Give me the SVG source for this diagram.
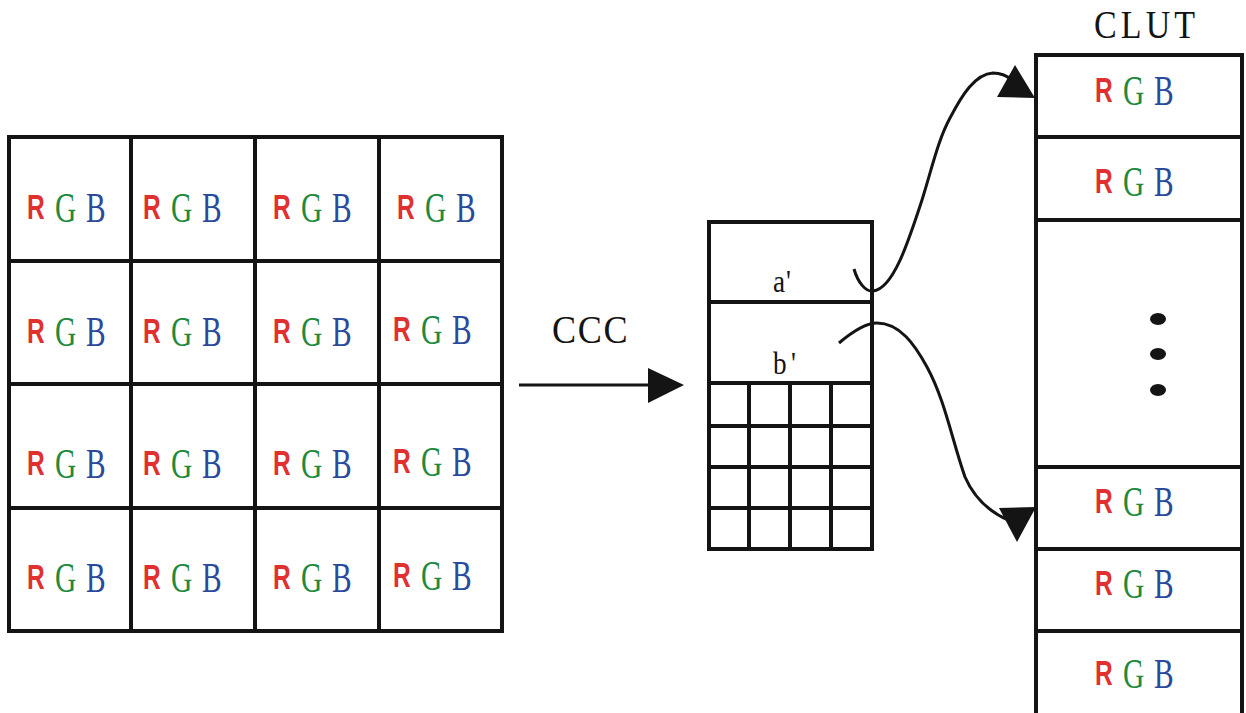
<svg xmlns="http://www.w3.org/2000/svg" width="1246" height="713" viewBox="0 0 1246 713">
<style>
.ln{fill:none;stroke:#141414;stroke-width:4}
.cv{fill:none;stroke:#141414;stroke-width:3}
.ah{fill:#141414}
.r{font-family:"Liberation Sans",Arial,sans-serif;font-weight:bold;font-size:35px;fill:#e0302f}
.g{font-family:"Liberation Serif","Times New Roman",serif;font-size:42px;fill:#1f8a3e}
.b{font-family:"Liberation Serif","Times New Roman",serif;font-size:42px;fill:#2b4a9b}
.lbl{font-family:"Liberation Serif","Times New Roman",serif;fill:#141414}
</style>
<rect width="1246" height="713" fill="#ffffff"/>

<g id="pixel-grid">
<rect class="ln" x="9" y="137" width="493" height="494"/>
<path class="ln" d="M131,137V631M255,137V631M379,137V631M9,261H502M9,384H502M9,508H502"/>
<text transform="translate(27,222) scale(0.7,1)"><tspan class="r" x="0" y="-3">R</tspan><tspan class="g" x="40" y="0">G</tspan><tspan class="b" x="84.3" y="0">B</tspan></text>
<text transform="translate(143,222) scale(0.7,1)"><tspan class="r" x="0" y="-3">R</tspan><tspan class="g" x="40" y="0">G</tspan><tspan class="b" x="84.3" y="0">B</tspan></text>
<text transform="translate(273,222) scale(0.7,1)"><tspan class="r" x="0" y="-3">R</tspan><tspan class="g" x="40" y="0">G</tspan><tspan class="b" x="84.3" y="0">B</tspan></text>
<text transform="translate(397,222) scale(0.7,1)"><tspan class="r" x="0" y="-3">R</tspan><tspan class="g" x="40" y="0">G</tspan><tspan class="b" x="84.3" y="0">B</tspan></text>
<text transform="translate(27,346) scale(0.7,1)"><tspan class="r" x="0" y="-3">R</tspan><tspan class="g" x="40" y="0">G</tspan><tspan class="b" x="84.3" y="0">B</tspan></text>
<text transform="translate(143,346) scale(0.7,1)"><tspan class="r" x="0" y="-3">R</tspan><tspan class="g" x="40" y="0">G</tspan><tspan class="b" x="84.3" y="0">B</tspan></text>
<text transform="translate(273,346) scale(0.7,1)"><tspan class="r" x="0" y="-3">R</tspan><tspan class="g" x="40" y="0">G</tspan><tspan class="b" x="84.3" y="0">B</tspan></text>
<text transform="translate(393,344) scale(0.7,1)"><tspan class="r" x="0" y="-3">R</tspan><tspan class="g" x="40" y="0">G</tspan><tspan class="b" x="84.3" y="0">B</tspan></text>
<text transform="translate(27,478) scale(0.7,1)"><tspan class="r" x="0" y="-3">R</tspan><tspan class="g" x="40" y="0">G</tspan><tspan class="b" x="84.3" y="0">B</tspan></text>
<text transform="translate(143,478) scale(0.7,1)"><tspan class="r" x="0" y="-3">R</tspan><tspan class="g" x="40" y="0">G</tspan><tspan class="b" x="84.3" y="0">B</tspan></text>
<text transform="translate(273,478) scale(0.7,1)"><tspan class="r" x="0" y="-3">R</tspan><tspan class="g" x="40" y="0">G</tspan><tspan class="b" x="84.3" y="0">B</tspan></text>
<text transform="translate(393,476) scale(0.7,1)"><tspan class="r" x="0" y="-3">R</tspan><tspan class="g" x="40" y="0">G</tspan><tspan class="b" x="84.3" y="0">B</tspan></text>
<text transform="translate(27,592) scale(0.7,1)"><tspan class="r" x="0" y="-3">R</tspan><tspan class="g" x="40" y="0">G</tspan><tspan class="b" x="84.3" y="0">B</tspan></text>
<text transform="translate(143,592) scale(0.7,1)"><tspan class="r" x="0" y="-3">R</tspan><tspan class="g" x="40" y="0">G</tspan><tspan class="b" x="84.3" y="0">B</tspan></text>
<text transform="translate(273,592) scale(0.7,1)"><tspan class="r" x="0" y="-3">R</tspan><tspan class="g" x="40" y="0">G</tspan><tspan class="b" x="84.3" y="0">B</tspan></text>
<text transform="translate(393,590) scale(0.7,1)"><tspan class="r" x="0" y="-3">R</tspan><tspan class="g" x="40" y="0">G</tspan><tspan class="b" x="84.3" y="0">B</tspan></text>
</g>

<g id="ccc-label">
<text class="lbl" transform="translate(552,343) scale(0.88,1)" font-size="41" textLength="86" lengthAdjust="spacing">CCC</text>
</g>

<g id="index-table">
<rect class="ln" x="709" y="222" width="163" height="327"/>
<path class="ln" d="M709,302H872M709,383H872M709,426H872M709,467H872M709,508H872M749,383V549M790,383V549M831,383V549"/>
<text class="lbl" transform="translate(773,292) scale(0.85,1)" font-size="32" textLength="21" lengthAdjust="spacing">a'</text>
<text class="lbl" transform="translate(773,374) scale(0.85,1)" font-size="32" textLength="27" lengthAdjust="spacing">b'</text>
</g>

<g id="clut">
<text class="lbl" transform="translate(1094,38) scale(0.85,1)" font-size="40" textLength="119" lengthAdjust="spacing">CLUT</text>
<path class="ln" d="M1036,720V55H1242V720M1036,137H1242M1036,220H1242M1036,467H1242M1036,549H1242M1036,631H1242"/>
<text transform="translate(1095,105) scale(0.7,1)"><tspan class="r" x="0" y="-3">R</tspan><tspan class="g" x="40" y="0">G</tspan><tspan class="b" x="84.3" y="0">B</tspan></text>
<text transform="translate(1095,196) scale(0.7,1)"><tspan class="r" x="0" y="-3">R</tspan><tspan class="g" x="40" y="0">G</tspan><tspan class="b" x="84.3" y="0">B</tspan></text>
<text transform="translate(1095,516) scale(0.7,1)"><tspan class="r" x="0" y="-3">R</tspan><tspan class="g" x="40" y="0">G</tspan><tspan class="b" x="84.3" y="0">B</tspan></text>
<text transform="translate(1095,598) scale(0.7,1)"><tspan class="r" x="0" y="-3">R</tspan><tspan class="g" x="40" y="0">G</tspan><tspan class="b" x="84.3" y="0">B</tspan></text>
<text transform="translate(1095,688) scale(0.7,1)"><tspan class="r" x="0" y="-3">R</tspan><tspan class="g" x="40" y="0">G</tspan><tspan class="b" x="84.3" y="0">B</tspan></text>
<ellipse class="ah" cx="1158" cy="319" rx="8" ry="6"/>
<ellipse class="ah" cx="1158" cy="354" rx="8" ry="6"/>
<ellipse class="ah" cx="1158" cy="390" rx="8" ry="6"/>
</g>

<g id="connectors">
<path class="cv" d="M519,385H650"/>
<polygon class="ah" points="648,368 684,385 648,403"/>
<path class="cv" d="M854,269 C858,283 866,292 873,291 C893,289 908,243 922,200 C932,168 938,140 950,118 C962,95 975,74 993,73 C1000,73 1006,75 1012,80"/>
<polygon class="ah" points="1015,65 1035,98 997,97"/>
<path class="cv" d="M839,343 C852,332 865,323 877,323 C900,323 915,345 927,367 C945,400 952,440 965,477 C975,500 990,512 1008,520"/>
<polygon class="ah" points="999,508 1036,507 1017,542"/>
</g>
</svg>
